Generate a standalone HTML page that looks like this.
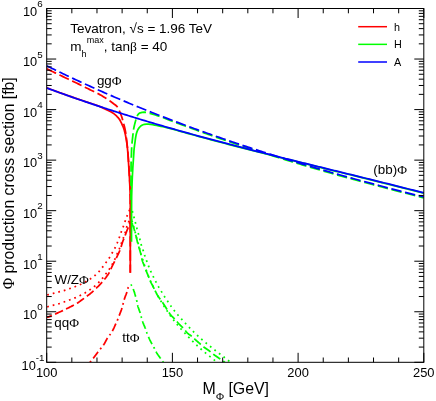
<!DOCTYPE html>
<html><head><meta charset="utf-8"><title>plot</title>
<style>html,body{margin:0;padding:0;background:#fff;}svg{display:block;will-change:transform;}</style></head>
<body>
<svg width="436" height="401" viewBox="0 0 436 401">
<rect width="436" height="401" fill="#fff"/>
<defs><clipPath id="c"><rect x="46.7" y="8.5" width="377.1" height="353.8"/></clipPath></defs>
<g clip-path="url(#c)" stroke-linecap="butt" stroke-linejoin="round">
<path d="M89.90,362.40 L90.19,362.06 L90.47,361.72 L90.76,361.37 L91.04,361.03 L91.32,360.69 L91.60,360.34 L91.88,360.00 L92.16,359.65 L92.44,359.30 L92.72,358.95 L93.00,358.61 L93.27,358.26 L93.54,357.90 L93.82,357.55 L94.09,357.20 L94.36,356.84 L94.62,356.49 L94.89,356.13 L95.16,355.78 L95.43,355.42 L95.69,355.06 L95.96,354.71 L96.23,354.35 L96.49,353.99 L96.76,353.64 L97.03,353.28 L97.29,352.93 L97.56,352.57 L97.83,352.22 L98.10,351.86 L98.38,351.51 L98.65,351.16 L98.92,350.81 L99.19,350.45 L99.47,350.10 L99.74,349.75 L100.01,349.40 L100.29,349.05 L100.56,348.70 L100.84,348.35 L101.12,348.00 L101.40,347.66 L101.69,347.32 L101.98,346.97 L102.26,346.63 L102.55,346.29 L102.83,345.94 L103.10,345.59 L103.36,345.24 L103.62,344.87 L103.86,344.51 L104.10,344.13 L104.33,343.75 L104.55,343.37 L104.77,342.98 L104.98,342.59 L105.19,342.19 L105.40,341.80 L105.61,341.40 L105.82,341.01 L106.03,340.61 L106.23,340.21 L106.45,339.82 L106.66,339.43 L106.88,339.04 L107.10,338.65 L107.33,338.27 L107.57,337.90 L107.81,337.53 L108.07,337.17 L108.34,336.81 L108.61,336.46 L108.88,336.11 L109.16,335.76 L109.44,335.41 L109.71,335.06 L109.98,334.70 L110.24,334.34 L110.50,333.98 L110.75,333.61 L111.01,333.24 L111.26,332.87 L111.50,332.50 L111.74,332.13 L111.98,331.75 L112.20,331.37 L112.42,330.98 L112.63,330.59 L112.84,330.20 L113.04,329.81 L113.24,329.41 L113.44,329.01 L113.63,328.61 L113.82,328.21 L114.00,327.80 L114.19,327.40 L114.37,326.99 L114.55,326.58 L114.73,326.17 L114.91,325.76 L115.09,325.35 L115.27,324.95 L115.45,324.54 L115.63,324.13 L115.82,323.72 L116.00,323.32 L116.19,322.91 L116.37,322.51 L116.56,322.10 L116.75,321.70 L116.94,321.30 L117.12,320.89 L117.31,320.49 L117.48,320.08 L117.65,319.67 L117.82,319.26 L117.99,318.84 L118.15,318.43 L118.30,318.01 L118.46,317.59 L118.62,317.18 L118.77,316.76 L118.92,316.34 L119.08,315.92 L119.24,315.51 L119.39,315.09 L119.55,314.67 L119.71,314.26 L119.88,313.84 L120.04,313.43 L120.20,313.01 L120.36,312.60 L120.52,312.18 L120.68,311.76 L120.84,311.35 L121.00,310.93 L121.15,310.51 L121.31,310.09 L121.45,309.67 L121.60,309.25 L121.74,308.83 L121.87,308.41 L122.00,307.99 L122.13,307.56 L122.25,307.13 L122.36,306.70 L122.47,306.27 L122.58,305.84 L122.69,305.41 L122.80,304.97 L122.91,304.54 L123.02,304.11 L123.14,303.68 L123.25,303.25 L123.36,302.82 L123.48,302.39 L123.59,301.96 L123.70,301.53 L123.82,301.09 L123.93,300.66 L124.05,300.24 L124.17,299.81 L124.29,299.38 L124.42,298.95 L124.55,298.53 L124.69,298.11 L124.83,297.69 L124.98,297.27 L125.14,296.85 L125.29,296.43 L125.45,296.02 L125.61,295.60 L125.77,295.18 L125.93,294.77 L126.10,294.35 L126.25,293.94 L126.41,293.52 L126.56,293.10 L126.71,292.68 L126.85,292.26 L126.99,291.84 L127.12,291.41 L127.24,290.98 L127.36,290.55 L127.47,290.12 L127.59,289.69 L127.70,289.26 L127.81,288.83 L127.93,288.40 L128.06,287.97 L128.18,287.55 L128.32,287.12 L128.46,286.70 L128.61,286.28 L128.76,285.86 L128.91,285.45 L129.07,285.03 L129.24,284.61 L129.40,284.20" stroke="#ff0000" stroke-width="1.75" fill="none" stroke-dasharray="8.2 3.4 1.75 3.4" stroke-dashoffset="11.6"/>
<path d="M131.20,284.30 L131.31,284.71 L131.44,285.12 L131.58,285.52 L131.74,285.91 L131.91,286.30 L132.09,286.69 L132.27,287.08 L132.46,287.47 L132.65,287.85 L132.83,288.24 L133.02,288.62 L133.20,289.01 L133.37,289.41 L133.52,289.80 L133.67,290.20 L133.82,290.60 L133.95,291.00 L134.09,291.40 L134.22,291.81 L134.36,292.22 L134.48,292.62 L134.61,293.03 L134.73,293.44 L134.86,293.85 L134.98,294.26 L135.10,294.67 L135.21,295.08 L135.33,295.49 L135.45,295.91 L135.56,296.32 L135.68,296.73 L135.79,297.14 L135.91,297.55 L136.02,297.96 L136.13,298.37 L136.25,298.79 L136.35,299.20 L136.46,299.61 L136.57,300.03 L136.67,300.44 L136.77,300.85 L136.87,301.27 L136.96,301.69 L137.05,302.10 L137.14,302.52 L137.22,302.94 L137.30,303.36 L137.38,303.78 L137.46,304.20 L137.55,304.62 L137.63,305.04 L137.72,305.46 L137.82,305.87 L137.92,306.28 L138.03,306.69 L138.15,307.10 L138.28,307.51 L138.41,307.91 L138.55,308.32 L138.69,308.72 L138.83,309.12 L138.98,309.52 L139.13,309.92 L139.28,310.33 L139.42,310.73 L139.57,311.13 L139.72,311.53 L139.86,311.94 L139.99,312.34 L140.12,312.75 L140.25,313.16 L140.37,313.56 L140.48,313.98 L140.60,314.39 L140.71,314.80 L140.82,315.21 L140.93,315.62 L141.04,316.04 L141.15,316.45 L141.27,316.86 L141.38,317.27 L141.49,317.68 L141.61,318.09 L141.73,318.50 L141.84,318.92 L141.96,319.33 L142.08,319.74 L142.19,320.15 L142.31,320.56 L142.44,320.97 L142.56,321.37 L142.69,321.78 L142.83,322.18 L142.97,322.59 L143.12,322.98 L143.27,323.38 L143.43,323.78 L143.59,324.17 L143.75,324.57 L143.92,324.96 L144.09,325.35 L144.26,325.75 L144.43,326.14 L144.60,326.53 L144.77,326.92 L144.93,327.32 L145.10,327.71 L145.26,328.11 L145.41,328.51 L145.56,328.90 L145.71,329.31 L145.85,329.71 L145.99,330.11 L146.13,330.52 L146.26,330.92 L146.39,331.33 L146.52,331.73 L146.66,332.14 L146.79,332.55 L146.93,332.95 L147.07,333.35 L147.22,333.75 L147.37,334.15 L147.52,334.55 L147.68,334.95 L147.84,335.35 L148.00,335.74 L148.16,336.14 L148.32,336.53 L148.49,336.92 L148.66,337.31 L148.83,337.70 L149.01,338.09 L149.19,338.48 L149.36,338.87 L149.54,339.25 L149.73,339.64 L149.91,340.03 L150.10,340.41 L150.28,340.79 L150.47,341.18 L150.66,341.56 L150.86,341.94 L151.05,342.32 L151.25,342.70 L151.44,343.08 L151.64,343.46 L151.84,343.84 L152.04,344.22 L152.24,344.59 L152.44,344.97 L152.64,345.34 L152.85,345.71 L153.07,346.08 L153.28,346.45 L153.50,346.82 L153.72,347.19 L153.93,347.56 L154.15,347.92 L154.36,348.29 L154.57,348.67 L154.78,349.04 L154.97,349.42 L155.17,349.80 L155.36,350.18 L155.54,350.57 L155.73,350.95 L155.92,351.34 L156.11,351.72 L156.30,352.10 L156.50,352.48 L156.71,352.85 L156.93,353.21 L157.15,353.57 L157.37,353.93 L157.61,354.29 L157.84,354.64 L158.08,355.00 L158.33,355.34 L158.58,355.69 L158.83,356.04 L159.08,356.39 L159.33,356.73 L159.59,357.08 L159.84,357.42 L160.09,357.77 L160.35,358.11 L160.60,358.46 L160.85,358.80 L161.10,359.15 L161.34,359.50 L161.59,359.85 L161.83,360.20 L162.08,360.55 L162.32,360.90 L162.57,361.25 L162.81,361.60 L163.06,361.95 L163.30,362.30" stroke="#00ff00" stroke-width="1.75" fill="none" stroke-dasharray="8.2 3.4 1.75 3.4" stroke-dashoffset="11.6"/>
<path d="M47.20,294.90 L47.82,294.75 L48.45,294.60 L49.07,294.44 L49.70,294.29 L50.32,294.13 L50.95,293.98 L51.57,293.82 L52.19,293.66 L52.81,293.50 L53.44,293.34 L54.06,293.18 L54.68,293.01 L55.30,292.84 L55.92,292.68 L56.54,292.51 L57.16,292.34 L57.78,292.17 L58.40,292.01 L59.03,291.84 L59.65,291.68 L60.27,291.52 L60.90,291.36 L61.52,291.21 L62.14,291.05 L62.77,290.89 L63.39,290.72 L64.00,290.55 L64.62,290.36 L65.23,290.17 L65.84,289.97 L66.45,289.76 L67.06,289.55 L67.66,289.33 L68.27,289.12 L68.87,288.90 L69.48,288.68 L70.08,288.46 L70.69,288.25 L71.30,288.03 L71.90,287.82 L72.51,287.60 L73.11,287.38 L73.71,287.15 L74.31,286.93 L74.91,286.69 L75.51,286.46 L76.11,286.22 L76.71,285.99 L77.30,285.74 L77.90,285.50 L78.49,285.25 L79.08,285.00 L79.67,284.74 L80.26,284.47 L80.84,284.21 L81.42,283.93 L82.00,283.65 L82.58,283.37 L83.16,283.08 L83.73,282.79 L84.30,282.49 L84.87,282.19 L85.43,281.88 L85.99,281.57 L86.55,281.25 L87.11,280.93 L87.66,280.60 L88.21,280.27 L88.76,279.93 L89.30,279.59 L89.84,279.24 L90.38,278.89 L90.91,278.53 L91.45,278.17 L91.98,277.80 L92.50,277.42 L93.02,277.04 L93.53,276.65 L94.03,276.25 L94.53,275.85 L95.02,275.43 L95.50,275.01 L95.98,274.58 L96.45,274.14 L96.92,273.69 L97.38,273.24 L97.83,272.78 L98.27,272.32 L98.71,271.85 L99.13,271.37 L99.56,270.89 L99.97,270.39 L100.38,269.90 L100.79,269.40 L101.19,268.89 L101.59,268.39 L101.99,267.89 L102.38,267.38 L102.77,266.86 L103.15,266.35 L103.53,265.83 L103.91,265.31 L104.28,264.79 L104.66,264.27 L105.04,263.75 L105.43,263.23 L105.82,262.72 L106.22,262.21 L106.61,261.71 L107.01,261.20 L107.41,260.69 L107.80,260.18 L108.18,259.66 L108.54,259.14 L108.89,258.60 L109.23,258.06 L109.56,257.51 L109.88,256.95 L110.20,256.39 L110.51,255.83 L110.83,255.26 L111.14,254.70 L111.46,254.14 L111.78,253.59 L112.11,253.03 L112.45,252.48 L112.78,251.93 L113.12,251.38 L113.44,250.83 L113.77,250.27 L114.08,249.71 L114.38,249.15 L114.67,248.58 L114.96,248.00 L115.24,247.42 L115.52,246.84 L115.79,246.26 L116.06,245.67 L116.32,245.09 L116.58,244.50 L116.84,243.91 L117.09,243.32 L117.34,242.73 L117.58,242.13 L117.82,241.53 L118.06,240.93 L118.29,240.33 L118.52,239.73 L118.74,239.13 L118.96,238.53 L119.18,237.92 L119.39,237.31 L119.59,236.70 L119.79,236.09 L119.99,235.48 L120.19,234.87 L120.40,234.26 L120.61,233.65 L120.83,233.05 L121.05,232.45 L121.27,231.84 L121.50,231.24 L121.73,230.64 L121.96,230.04 L122.19,229.44 L122.42,228.84 L122.65,228.24 L122.87,227.64 L123.10,227.03 L123.32,226.43 L123.54,225.83 L123.77,225.23 L123.99,224.62 L124.20,224.02 L124.42,223.41 L124.63,222.80 L124.84,222.20 L125.04,221.58 L125.24,220.97 L125.43,220.36 L125.63,219.74 L125.83,219.13 L126.03,218.52 L126.24,217.92 L126.47,217.32 L126.71,216.72 L126.96,216.13 L127.22,215.54 L127.49,214.96 L127.75,214.37 L128.02,213.79 L128.28,213.20 L128.53,212.61 L128.78,212.01 L129.01,211.41 L129.24,210.81 L129.46,210.21 L129.68,209.61 L129.90,209.00" stroke="#ff0000" stroke-width="1.75" fill="none" stroke-dasharray="1.75 3.95" stroke-dashoffset="0"/>
<path d="M47.20,306.90 L47.82,306.72 L48.44,306.53 L49.07,306.35 L49.69,306.17 L50.32,306.00 L50.94,305.82 L51.57,305.65 L52.19,305.48 L52.82,305.32 L53.45,305.16 L54.08,305.00 L54.71,304.85 L55.34,304.71 L55.98,304.56 L56.61,304.40 L57.24,304.25 L57.86,304.08 L58.48,303.90 L59.10,303.72 L59.72,303.52 L60.34,303.31 L60.95,303.10 L61.56,302.88 L62.17,302.65 L62.78,302.43 L63.39,302.21 L64.00,301.99 L64.61,301.77 L65.22,301.55 L65.83,301.33 L66.44,301.11 L67.05,300.88 L67.66,300.66 L68.27,300.43 L68.88,300.21 L69.48,299.98 L70.09,299.76 L70.70,299.54 L71.31,299.31 L71.92,299.09 L72.53,298.86 L73.13,298.63 L73.74,298.39 L74.34,298.14 L74.93,297.89 L75.53,297.64 L76.12,297.37 L76.71,297.11 L77.30,296.84 L77.89,296.56 L78.48,296.29 L79.07,296.01 L79.65,295.72 L80.23,295.44 L80.81,295.15 L81.40,294.86 L81.98,294.57 L82.55,294.27 L83.13,293.97 L83.70,293.66 L84.26,293.35 L84.83,293.03 L85.38,292.70 L85.94,292.36 L86.49,292.02 L87.04,291.67 L87.58,291.31 L88.12,290.96 L88.66,290.60 L89.20,290.23 L89.74,289.87 L90.28,289.51 L90.81,289.14 L91.35,288.77 L91.88,288.39 L92.40,288.01 L92.92,287.63 L93.44,287.23 L93.94,286.83 L94.44,286.41 L94.93,285.98 L95.41,285.55 L95.89,285.11 L96.37,284.67 L96.84,284.23 L97.31,283.78 L97.78,283.34 L98.26,282.89 L98.73,282.44 L99.19,281.99 L99.66,281.53 L100.11,281.07 L100.56,280.60 L100.99,280.12 L101.42,279.63 L101.83,279.14 L102.23,278.63 L102.63,278.12 L103.02,277.60 L103.41,277.08 L103.80,276.56 L104.19,276.04 L104.58,275.52 L104.98,275.01 L105.38,274.49 L105.78,273.98 L106.18,273.47 L106.58,272.96 L106.98,272.45 L107.37,271.93 L107.76,271.41 L108.14,270.89 L108.52,270.36 L108.89,269.83 L109.25,269.29 L109.60,268.74 L109.95,268.20 L110.29,267.65 L110.63,267.09 L110.97,266.54 L111.30,265.98 L111.62,265.42 L111.95,264.86 L112.28,264.29 L112.60,263.73 L112.92,263.16 L113.23,262.59 L113.53,262.02 L113.83,261.45 L114.12,260.87 L114.40,260.28 L114.67,259.69 L114.93,259.10 L115.18,258.50 L115.42,257.90 L115.67,257.30 L115.91,256.70 L116.16,256.10 L116.41,255.50 L116.67,254.90 L116.94,254.31 L117.22,253.72 L117.49,253.14 L117.76,252.55 L118.04,251.96 L118.31,251.37 L118.57,250.78 L118.82,250.18 L119.07,249.58 L119.31,248.98 L119.54,248.37 L119.77,247.77 L120.00,247.16 L120.22,246.55 L120.45,245.94 L120.67,245.33 L120.89,244.72 L121.11,244.11 L121.33,243.50 L121.55,242.89 L121.77,242.28 L121.98,241.67 L122.20,241.06 L122.42,240.44 L122.64,239.83 L122.86,239.23 L123.10,238.62 L123.34,238.02 L123.58,237.41 L123.83,236.81 L124.06,236.21 L124.29,235.60 L124.51,234.99 L124.71,234.37 L124.89,233.75 L125.05,233.13 L125.21,232.50 L125.36,231.86 L125.50,231.23 L125.65,230.60 L125.81,229.97 L125.97,229.34 L126.15,228.72 L126.35,228.10 L126.56,227.49 L126.78,226.88 L127.00,226.27 L127.23,225.66 L127.47,225.06 L127.70,224.45 L127.93,223.84 L128.16,223.24 L128.39,222.63 L128.62,222.02 L128.85,221.42 L129.09,220.81 L129.32,220.21 L129.56,219.60 L129.80,219.00" stroke="#ff0000" stroke-width="1.75" fill="none" stroke-dasharray="1.75 3.95" stroke-dashoffset="0"/>
<path d="M46.70,317.50 L47.34,317.28 L47.97,317.06 L48.60,316.83 L49.23,316.59 L49.86,316.35 L50.48,316.11 L51.10,315.86 L51.72,315.60 L52.34,315.34 L52.96,315.07 L53.57,314.80 L54.18,314.52 L54.79,314.24 L55.41,313.96 L56.02,313.68 L56.63,313.41 L57.24,313.13 L57.85,312.85 L58.46,312.57 L59.08,312.30 L59.69,312.02 L60.30,311.74 L60.91,311.46 L61.52,311.17 L62.13,310.89 L62.73,310.61 L63.34,310.32 L63.95,310.03 L64.56,309.75 L65.16,309.46 L65.77,309.16 L66.37,308.87 L66.97,308.57 L67.57,308.27 L68.17,307.97 L68.77,307.67 L69.37,307.36 L69.97,307.06 L70.57,306.76 L71.17,306.45 L71.77,306.15 L72.38,305.85 L72.98,305.54 L73.57,305.23 L74.17,304.92 L74.76,304.60 L75.35,304.28 L75.93,303.95 L76.51,303.62 L77.08,303.27 L77.65,302.91 L78.21,302.54 L78.76,302.16 L79.30,301.76 L79.85,301.37 L80.39,300.97 L80.93,300.58 L81.48,300.18 L82.03,299.79 L82.57,299.40 L83.11,299.01 L83.66,298.61 L84.20,298.22 L84.74,297.82 L85.28,297.42 L85.82,297.02 L86.36,296.62 L86.90,296.22 L87.44,295.82 L87.98,295.42 L88.52,295.02 L89.05,294.61 L89.59,294.21 L90.12,293.79 L90.64,293.37 L91.15,292.94 L91.66,292.50 L92.16,292.06 L92.66,291.61 L93.16,291.16 L93.66,290.70 L94.15,290.24 L94.64,289.78 L95.12,289.32 L95.61,288.85 L96.09,288.39 L96.58,287.92 L97.06,287.45 L97.54,286.98 L98.01,286.51 L98.49,286.03 L98.95,285.55 L99.41,285.06 L99.88,284.57 L100.34,284.09 L100.80,283.60 L101.26,283.10 L101.72,282.61 L102.17,282.11 L102.62,281.61 L103.06,281.10 L103.49,280.59 L103.92,280.07 L104.34,279.55 L104.75,279.03 L105.17,278.50 L105.58,277.96 L105.99,277.43 L106.39,276.88 L106.79,276.34 L107.18,275.79 L107.56,275.23 L107.93,274.67 L108.30,274.11 L108.65,273.54 L108.99,272.97 L109.32,272.39 L109.63,271.80 L109.93,271.20 L110.21,270.60 L110.49,269.98 L110.76,269.37 L111.03,268.75 L111.30,268.13 L111.57,267.51 L111.84,266.89 L112.12,266.28 L112.41,265.68 L112.71,265.07 L113.02,264.48 L113.32,263.88 L113.63,263.28 L113.94,262.69 L114.25,262.09 L114.56,261.49 L114.86,260.89 L115.17,260.29 L115.47,259.70 L115.78,259.10 L116.08,258.50 L116.38,257.90 L116.68,257.30 L116.98,256.69 L117.27,256.09 L117.56,255.48 L117.84,254.88 L118.13,254.27 L118.42,253.66 L118.70,253.05 L118.98,252.44 L119.25,251.82 L119.51,251.20 L119.77,250.58 L120.01,249.96 L120.25,249.34 L120.47,248.70 L120.69,248.07 L120.90,247.43 L121.10,246.79 L121.30,246.15 L121.50,245.50 L121.69,244.86 L121.89,244.22 L122.09,243.57 L122.29,242.93 L122.50,242.29 L122.72,241.66 L122.94,241.03 L123.18,240.40 L123.43,239.78 L123.70,239.16 L123.96,238.54 L124.23,237.93 L124.48,237.30 L124.72,236.68 L124.95,236.05 L125.18,235.41 L125.41,234.78 L125.63,234.15 L125.86,233.52 L126.08,232.88 L126.31,232.25 L126.54,231.62 L126.78,230.99 L127.03,230.37 L127.28,229.75 L127.55,229.13 L127.81,228.51 L128.07,227.89 L128.33,227.27 L128.58,226.64 L128.82,226.02 L129.04,225.38 L129.25,224.75 L129.44,224.11 L129.62,223.46 L129.79,222.81 L129.95,222.16 L130.10,221.50" stroke="#ff0000" stroke-width="1.75" fill="none" stroke-dasharray="8.7 3.5" stroke-dashoffset="3.2"/>
<path d="M132.30,211.00 L132.54,211.90 L132.79,212.80 L133.03,213.70 L133.27,214.60 L133.51,215.50 L133.76,216.40 L134.00,217.31 L134.24,218.21 L134.49,219.11 L134.73,220.01 L134.97,220.91 L135.20,221.81 L135.43,222.72 L135.66,223.62 L135.88,224.53 L136.10,225.43 L136.33,226.34 L136.56,227.24 L136.80,228.14 L137.04,229.04 L137.29,229.94 L137.54,230.84 L137.80,231.74 L138.05,232.64 L138.31,233.53 L138.58,234.43 L138.84,235.32 L139.11,236.22 L139.36,237.11 L139.60,238.01 L139.82,238.92 L140.02,239.83 L140.22,240.75 L140.41,241.66 L140.61,242.57 L140.84,243.47 L141.09,244.37 L141.38,245.25 L141.69,246.14 L142.01,247.01 L142.33,247.89 L142.63,248.78 L142.91,249.67 L143.18,250.56 L143.44,251.45 L143.71,252.35 L143.97,253.24 L144.25,254.13 L144.54,255.02 L144.84,255.90 L145.15,256.78 L145.46,257.66 L145.78,258.54 L146.10,259.42 L146.41,260.30 L146.73,261.17 L147.04,262.05 L147.36,262.93 L147.68,263.80 L148.01,264.68 L148.35,265.55 L148.69,266.41 L149.04,267.28 L149.39,268.15 L149.75,269.01 L150.11,269.87 L150.48,270.72 L150.86,271.57 L151.25,272.42 L151.64,273.27 L152.04,274.11 L152.44,274.96 L152.84,275.80 L153.25,276.63 L153.67,277.47 L154.08,278.30 L154.51,279.14 L154.93,279.97 L155.35,280.80 L155.77,281.63 L156.20,282.46 L156.62,283.29 L157.05,284.12 L157.49,284.94 L157.95,285.76 L158.41,286.57 L158.88,287.37 L159.37,288.17 L159.85,288.97 L160.34,289.76 L160.82,290.56 L161.30,291.36 L161.78,292.16 L162.26,292.96 L162.74,293.76 L163.23,294.56 L163.73,295.35 L164.23,296.13 L164.74,296.91 L165.25,297.69 L165.77,298.47 L166.29,299.24 L166.81,300.02 L167.33,300.79 L167.85,301.57 L168.38,302.34 L168.90,303.11 L169.43,303.88 L169.96,304.64 L170.50,305.41 L171.03,306.17 L171.57,306.93 L172.11,307.69 L172.66,308.45 L173.22,309.19 L173.78,309.94 L174.36,310.67 L174.94,311.41 L175.52,312.13 L176.11,312.86 L176.70,313.58 L177.30,314.30 L177.90,315.01 L178.50,315.72 L179.11,316.43 L179.73,317.13 L180.34,317.83 L180.97,318.52 L181.60,319.21 L182.23,319.89 L182.87,320.57 L183.51,321.25 L184.15,321.93 L184.78,322.62 L185.42,323.30 L186.05,323.99 L186.68,324.68 L187.31,325.36 L187.95,326.04 L188.59,326.72 L189.24,327.39 L189.89,328.06 L190.54,328.73 L191.20,329.39 L191.85,330.05 L192.51,330.71 L193.18,331.37 L193.84,332.02 L194.51,332.67 L195.18,333.32 L195.85,333.97 L196.53,334.61 L197.21,335.25 L197.89,335.89 L198.57,336.53 L199.26,337.16 L199.95,337.78 L200.64,338.41 L201.34,339.02 L202.05,339.63 L202.76,340.24 L203.47,340.85 L204.18,341.45 L204.89,342.05 L205.61,342.64 L206.34,343.23 L207.06,343.81 L207.79,344.40 L208.52,344.99 L209.24,345.58 L209.96,346.17 L210.68,346.76 L211.40,347.36 L212.12,347.95 L212.84,348.53 L213.57,349.12 L214.31,349.70 L215.04,350.27 L215.78,350.84 L216.52,351.41 L217.26,351.98 L217.99,352.55 L218.74,353.12 L219.48,353.68 L220.22,354.24 L220.97,354.81 L221.71,355.37 L222.45,355.94 L223.19,356.51 L223.93,357.07 L224.67,357.64 L225.41,358.21 L226.14,358.78 L226.88,359.36 L227.61,359.94 L228.33,360.53 L229.06,361.12 L229.78,361.71 L230.50,362.30" stroke="#00ff00" stroke-width="1.75" fill="none" stroke-dasharray="1.75 3.95" stroke-dashoffset="0"/>
<path d="M131.90,220.50 L132.15,221.32 L132.40,222.14 L132.65,222.96 L132.89,223.78 L133.13,224.60 L133.37,225.43 L133.60,226.25 L133.83,227.08 L134.06,227.90 L134.29,228.73 L134.51,229.56 L134.73,230.39 L134.94,231.21 L135.16,232.04 L135.37,232.87 L135.58,233.70 L135.78,234.54 L135.99,235.37 L136.19,236.20 L136.40,237.03 L136.62,237.86 L136.84,238.69 L137.06,239.52 L137.29,240.34 L137.52,241.17 L137.76,241.99 L137.99,242.82 L138.23,243.64 L138.47,244.46 L138.71,245.28 L138.96,246.10 L139.20,246.93 L139.43,247.75 L139.65,248.58 L139.84,249.41 L140.03,250.25 L140.20,251.09 L140.38,251.93 L140.57,252.77 L140.77,253.60 L140.99,254.42 L141.24,255.24 L141.52,256.05 L141.81,256.86 L142.10,257.67 L142.39,258.48 L142.66,259.29 L142.92,260.10 L143.17,260.92 L143.41,261.75 L143.65,262.57 L143.90,263.39 L144.15,264.21 L144.41,265.03 L144.68,265.84 L144.96,266.65 L145.25,267.46 L145.54,268.26 L145.83,269.07 L146.12,269.87 L146.41,270.68 L146.70,271.49 L146.99,272.29 L147.28,273.10 L147.57,273.90 L147.87,274.71 L148.18,275.51 L148.49,276.30 L148.81,277.10 L149.13,277.90 L149.45,278.69 L149.78,279.48 L150.11,280.27 L150.46,281.06 L150.80,281.84 L151.16,282.62 L151.51,283.40 L151.88,284.17 L152.25,284.95 L152.61,285.72 L152.99,286.49 L153.36,287.26 L153.75,288.03 L154.13,288.80 L154.52,289.56 L154.91,290.32 L155.30,291.09 L155.68,291.85 L156.07,292.62 L156.46,293.38 L156.85,294.14 L157.25,294.90 L157.66,295.65 L158.08,296.40 L158.51,297.14 L158.95,297.88 L159.39,298.61 L159.84,299.34 L160.28,300.07 L160.73,300.81 L161.17,301.54 L161.61,302.28 L162.05,303.01 L162.49,303.75 L162.94,304.48 L163.39,305.21 L163.85,305.93 L164.31,306.65 L164.78,307.37 L165.25,308.08 L165.73,308.80 L166.20,309.51 L166.68,310.22 L167.16,310.93 L167.63,311.64 L168.11,312.35 L168.60,313.06 L169.08,313.77 L169.57,314.47 L170.05,315.18 L170.55,315.88 L171.04,316.58 L171.53,317.28 L172.03,317.98 L172.54,318.67 L173.04,319.36 L173.56,320.04 L174.08,320.72 L174.61,321.40 L175.14,322.07 L175.68,322.74 L176.22,323.40 L176.77,324.06 L177.32,324.72 L177.87,325.38 L178.42,326.03 L178.98,326.68 L179.55,327.32 L180.11,327.97 L180.68,328.61 L181.26,329.24 L181.84,329.87 L182.43,330.49 L183.01,331.12 L183.60,331.74 L184.19,332.37 L184.77,333.00 L185.35,333.63 L185.93,334.26 L186.51,334.89 L187.09,335.52 L187.67,336.15 L188.26,336.77 L188.85,337.39 L189.45,338.01 L190.05,338.62 L190.65,339.23 L191.25,339.84 L191.85,340.45 L192.46,341.06 L193.07,341.66 L193.68,342.26 L194.29,342.86 L194.90,343.46 L195.52,344.05 L196.14,344.64 L196.76,345.23 L197.38,345.82 L198.01,346.41 L198.64,346.99 L199.27,347.57 L199.90,348.15 L200.54,348.72 L201.18,349.28 L201.83,349.85 L202.48,350.41 L203.13,350.96 L203.79,351.52 L204.44,352.07 L205.10,352.62 L205.76,353.16 L206.43,353.70 L207.09,354.24 L207.76,354.78 L208.43,355.32 L209.09,355.86 L209.75,356.40 L210.41,356.95 L211.08,357.49 L211.74,358.03 L212.40,358.58 L213.07,359.11 L213.74,359.65 L214.41,360.18 L215.08,360.71 L215.76,361.24 L216.44,361.76 L217.12,362.28 L217.80,362.80" stroke="#00ff00" stroke-width="1.75" fill="none" stroke-dasharray="1.75 3.95" stroke-dashoffset="0"/>
<path d="M131.80,219.00 L131.83,219.90 L131.90,220.79 L132.00,221.67 L132.12,222.55 L132.25,223.42 L132.45,224.27 L132.71,225.12 L133.01,225.96 L133.33,226.80 L133.65,227.64 L133.93,228.49 L134.19,229.34 L134.43,230.20 L134.66,231.05 L134.89,231.91 L135.12,232.77 L135.35,233.63 L135.58,234.49 L135.81,235.35 L136.03,236.21 L136.25,237.07 L136.47,237.93 L136.68,238.80 L136.88,239.66 L137.08,240.53 L137.27,241.40 L137.47,242.26 L137.68,243.12 L137.92,243.98 L138.16,244.84 L138.41,245.69 L138.67,246.54 L138.93,247.39 L139.19,248.24 L139.45,249.09 L139.71,249.94 L139.96,250.80 L140.21,251.65 L140.44,252.51 L140.67,253.37 L140.88,254.23 L141.07,255.10 L141.26,255.97 L141.44,256.85 L141.63,257.72 L141.82,258.59 L142.02,259.45 L142.24,260.31 L142.49,261.16 L142.77,262.00 L143.10,262.82 L143.44,263.65 L143.77,264.48 L144.08,265.31 L144.40,266.14 L144.71,266.97 L145.03,267.80 L145.34,268.63 L145.65,269.46 L145.97,270.30 L146.29,271.12 L146.62,271.95 L146.95,272.77 L147.29,273.60 L147.64,274.41 L147.99,275.23 L148.33,276.05 L148.66,276.88 L148.98,277.71 L149.31,278.54 L149.63,279.37 L149.96,280.20 L150.30,281.02 L150.65,281.83 L151.02,282.64 L151.42,283.43 L151.87,284.20 L152.32,284.97 L152.73,285.75 L153.13,286.55 L153.51,287.35 L153.88,288.16 L154.25,288.97 L154.62,289.78 L155.00,290.58 L155.39,291.38 L155.79,292.17 L156.21,292.96 L156.63,293.74 L157.06,294.52 L157.51,295.29 L157.98,296.04 L158.46,296.78 L158.97,297.51 L159.49,298.24 L160.01,298.95 L160.54,299.67 L161.07,300.39 L161.59,301.11 L162.11,301.83 L162.61,302.57 L163.10,303.31 L163.59,304.05 L164.07,304.80 L164.55,305.55 L165.03,306.30 L165.50,307.05 L165.96,307.81 L166.43,308.57 L166.90,309.33 L167.37,310.08 L167.85,310.83 L168.33,311.58 L168.82,312.31 L169.33,313.04 L169.85,313.77 L170.38,314.48 L170.93,315.18 L171.51,315.85 L172.12,316.49 L172.75,317.11 L173.40,317.73 L174.06,318.33 L174.71,318.95 L175.34,319.57 L175.95,320.22 L176.52,320.89 L177.05,321.61 L177.57,322.33 L178.12,323.03 L178.71,323.69 L179.33,324.32 L179.96,324.95 L180.60,325.57 L181.25,326.18 L181.90,326.79 L182.54,327.41 L183.17,328.04 L183.78,328.69 L184.36,329.36 L184.92,330.06 L185.47,330.77 L186.03,331.47 L186.60,332.15 L187.19,332.80 L187.83,333.40 L188.51,333.96 L189.22,334.49 L189.95,335.01 L190.68,335.53 L191.39,336.07 L192.08,336.63 L192.74,337.22 L193.39,337.83 L194.04,338.44 L194.68,339.05 L195.33,339.66 L195.99,340.25 L196.66,340.85 L197.32,341.44 L197.99,342.03 L198.65,342.62 L199.32,343.20 L200.00,343.78 L200.67,344.36 L201.35,344.94 L202.03,345.51 L202.71,346.08 L203.40,346.65 L204.09,347.20 L204.80,347.73 L205.52,348.25 L206.25,348.76 L206.99,349.26 L207.72,349.77 L208.45,350.28 L209.17,350.80 L209.88,351.34 L210.57,351.89 L211.25,352.46 L211.93,353.04 L212.62,353.60 L213.32,354.15 L214.03,354.68 L214.74,355.21 L215.47,355.73 L216.19,356.24 L216.92,356.76 L217.65,357.27 L218.38,357.77 L219.11,358.28 L219.85,358.77 L220.59,359.26 L221.33,359.76 L222.06,360.26 L222.78,360.78 L223.50,361.31 L224.20,361.85 L224.90,362.40" stroke="#00ff00" stroke-width="1.75" fill="none" stroke-dasharray="8.7 3.5" stroke-dashoffset="8.2"/>
<path d="M46.70,68.80 L47.82,69.34 L48.94,69.89 L50.07,70.43 L51.19,70.97 L52.31,71.51 L53.43,72.05 L54.56,72.59 L55.68,73.13 L56.81,73.67 L57.93,74.21 L59.05,74.75 L60.18,75.29 L61.30,75.82 L62.43,76.35 L63.56,76.89 L64.69,77.42 L65.81,77.95 L66.94,78.48 L68.07,79.01 L69.20,79.54 L70.33,80.07 L71.45,80.60 L72.58,81.14 L73.70,81.68 L74.83,82.22 L75.95,82.76 L77.07,83.30 L78.19,83.85 L79.31,84.40 L80.43,84.95 L81.55,85.50 L82.66,86.05 L83.78,86.60 L84.90,87.16 L86.01,87.71 L87.13,88.27 L88.25,88.82 L89.36,89.37 L90.48,89.92 L91.61,90.47 L92.73,91.01 L93.85,91.56 L94.97,92.11 L96.09,92.67 L97.20,93.23 L98.30,93.81 L99.40,94.39 L100.49,94.99 L101.57,95.61 L102.65,96.24 L103.72,96.88 L104.78,97.53 L105.84,98.19 L106.89,98.87 L107.93,99.55 L108.96,100.25 L109.98,100.96 L111.00,101.69 L112.00,102.44 L112.99,103.20 L113.97,103.96 L115.01,104.72 L116.01,105.50 L116.91,106.34 L117.63,107.29 L118.21,108.39 L118.74,109.55 L119.27,110.68 L119.79,111.81 L120.28,112.96 L120.74,114.11 L121.18,115.28 L121.60,116.46 L121.99,117.64 L122.34,118.84 L122.64,120.05 L122.92,121.26 L123.22,122.47 L123.57,123.67 L123.93,124.86 L124.28,126.06 L124.59,127.27 L124.88,128.48 L125.14,129.70 L125.37,130.92 L125.59,132.15 L125.79,133.38 L125.98,134.61 L126.15,135.85 L126.30,137.08 L126.45,138.32 L126.59,139.56 L126.73,140.80 L126.86,142.04 L127.00,143.28 L127.14,144.52 L127.27,145.76 L127.40,147.00 L127.53,148.24 L127.64,149.48 L127.75,150.72 L127.86,151.96 L127.96,153.20 L128.06,154.45 L128.15,155.69 L128.24,156.93 L128.33,158.18 L128.41,159.42 L128.49,160.66 L128.57,161.91 L128.65,163.15 L128.73,164.40 L128.81,165.64 L128.89,166.88 L128.97,168.13 L129.05,169.37 L129.13,170.62 L129.21,171.86 L129.29,173.10 L129.37,174.35 L129.44,175.59 L129.51,176.84 L129.58,178.08 L129.65,179.33 L129.71,180.57 L129.77,181.82 L129.82,183.06 L129.87,184.31 L129.92,185.55 L129.97,186.80 L130.01,188.04 L130.06,189.29 L130.10,190.53 L130.14,191.78 L130.18,193.03 L130.22,194.27 L130.25,195.52 L130.27,196.77 L130.29,198.01 L130.30,199.26 L130.30,200.50 L130.30,201.75 L130.30,203.00 L130.30,204.24 L130.30,205.49 L130.30,206.74 L130.30,207.98 L130.30,209.23 L130.30,210.47 L130.30,211.72 L130.30,212.97 L130.30,214.21 L130.30,215.46 L130.30,216.71 L130.30,217.95 L130.30,219.20 L130.30,220.44 L130.30,221.69 L130.30,222.94 L130.30,224.18 L130.30,225.43 L130.30,226.68 L130.30,227.92 L130.30,229.17 L130.30,230.42 L130.30,231.66 L130.30,232.91 L130.30,234.15 L130.30,235.40 L130.30,236.65 L130.30,237.89 L130.30,239.14 L130.30,240.39 L130.30,241.63 L130.30,242.88 L130.30,244.13 L130.30,245.37 L130.30,246.62 L130.30,247.87 L130.30,249.11 L130.30,250.36 L130.30,251.61 L130.30,252.85 L130.30,254.10 L130.30,255.35 L130.30,256.59 L130.30,257.84 L130.30,259.09 L130.30,260.33 L130.30,261.58 L130.30,262.83 L130.30,264.07 L130.30,265.32 L130.30,266.57 L130.30,267.81 L130.30,269.06 L130.30,270.31 L130.30,271.55 L130.30,272.80" stroke="#ff0000" stroke-width="1.75" fill="none" stroke-dasharray="10.4 3.7" stroke-dashoffset="0"/>
<path d="M46.70,87.80 L47.80,88.22 L48.91,88.64 L50.01,89.05 L51.12,89.47 L52.23,89.88 L53.33,90.29 L54.44,90.70 L55.55,91.11 L56.66,91.51 L57.77,91.92 L58.87,92.33 L59.98,92.73 L61.09,93.13 L62.21,93.53 L63.32,93.93 L64.43,94.33 L65.54,94.72 L66.65,95.12 L67.76,95.51 L68.88,95.91 L69.99,96.30 L71.11,96.69 L72.22,97.07 L73.34,97.45 L74.46,97.83 L75.57,98.21 L76.69,98.59 L77.81,98.96 L78.93,99.34 L80.05,99.71 L81.17,100.09 L82.29,100.46 L83.41,100.84 L84.53,101.22 L85.65,101.59 L86.77,101.98 L87.88,102.36 L89.00,102.74 L90.12,103.12 L91.25,103.49 L92.37,103.86 L93.49,104.23 L94.62,104.61 L95.73,104.99 L96.85,105.38 L97.95,105.79 L99.05,106.21 L100.14,106.65 L101.22,107.12 L102.29,107.62 L103.34,108.15 L104.39,108.70 L105.44,109.25 L106.49,109.79 L107.55,110.31 L108.63,110.81 L109.72,111.31 L110.79,111.82 L111.83,112.36 L112.83,112.95 L113.79,113.62 L114.71,114.36 L115.61,115.15 L116.47,115.97 L117.30,116.80 L118.10,117.68 L118.86,118.59 L119.53,119.55 L120.14,120.56 L120.70,121.61 L121.23,122.66 L121.73,123.73 L122.21,124.81 L122.71,125.88 L123.19,126.96 L123.62,128.06 L123.99,129.18 L124.32,130.31 L124.62,131.46 L124.91,132.60 L125.17,133.75 L125.42,134.91 L125.64,136.07 L125.86,137.23 L126.07,138.39 L126.27,139.55 L126.46,140.72 L126.64,141.89 L126.81,143.05 L126.96,144.22 L127.11,145.40 L127.24,146.57 L127.37,147.74 L127.49,148.92 L127.60,150.09 L127.71,151.27 L127.80,152.45 L127.90,153.62 L127.99,154.80 L128.07,155.98 L128.16,157.16 L128.24,158.33 L128.31,159.51 L128.39,160.69 L128.47,161.87 L128.54,163.05 L128.62,164.22 L128.69,165.40 L128.77,166.58 L128.84,167.76 L128.92,168.94 L128.99,170.12 L129.07,171.29 L129.14,172.47 L129.21,173.65 L129.28,174.83 L129.35,176.01 L129.42,177.19 L129.48,178.37 L129.55,179.55 L129.61,180.72 L129.67,181.90 L129.72,183.08 L129.77,184.26 L129.82,185.44 L129.87,186.62 L129.93,187.80 L129.98,188.98 L130.03,190.16 L130.08,191.34 L130.13,192.52 L130.17,193.70 L130.21,194.88 L130.25,196.06 L130.27,197.24 L130.29,198.42 L130.30,199.60 L130.30,200.78 L130.30,201.96 L130.30,203.14 L130.30,204.32 L130.30,205.50 L130.30,206.68 L130.30,207.86 L130.30,209.04 L130.30,210.22 L130.30,211.40 L130.30,212.58 L130.30,213.76 L130.30,214.95 L130.30,216.13 L130.30,217.31 L130.30,218.49 L130.30,219.67 L130.30,220.85 L130.30,222.03 L130.30,223.21 L130.30,224.39 L130.30,225.57 L130.30,226.75 L130.30,227.93 L130.30,229.11 L130.30,230.29 L130.30,231.47 L130.30,232.65 L130.30,233.83 L130.30,235.01 L130.30,236.19 L130.30,237.37 L130.30,238.55 L130.30,239.74 L130.30,240.92 L130.30,242.10 L130.30,243.28 L130.30,244.46 L130.30,245.64 L130.30,246.82 L130.30,248.00 L130.30,249.18 L130.30,250.36 L130.30,251.54 L130.30,252.72 L130.30,253.90 L130.30,255.08 L130.30,256.27 L130.30,257.45 L130.30,258.63 L130.30,259.81 L130.30,260.99 L130.30,262.17 L130.30,263.35 L130.30,264.53 L130.30,265.71 L130.30,266.89 L130.30,268.08 L130.30,269.26 L130.30,270.44 L130.30,271.62 L130.30,272.80" stroke="#ff0000" stroke-width="1.75" fill="none"/>
<path d="M131.00,200.00 L131.00,198.06 L131.00,196.12 L131.00,194.18 L131.00,192.24 L131.00,190.30 L131.01,188.36 L131.01,186.43 L131.01,184.49 L131.02,182.55 L131.02,180.61 L131.03,178.67 L131.03,176.73 L131.04,174.80 L131.05,172.86 L131.06,170.92 L131.06,168.98 L131.07,167.05 L131.08,165.11 L131.10,163.17 L131.12,161.23 L131.19,159.30 L131.29,157.36 L131.38,155.42 L131.45,153.49 L131.51,151.55 L131.57,149.61 L131.67,147.68 L131.80,145.74 L131.95,143.81 L132.13,141.88 L132.34,139.95 L132.56,138.03 L132.78,136.10 L132.99,134.17 L133.18,132.24 L133.43,130.32 L133.75,128.41 L134.14,126.51 L134.58,124.62 L135.06,122.74 L135.57,120.87 L136.11,118.94 L136.73,117.06 L137.50,115.34 L138.66,113.77 L140.25,112.78 L142.15,112.34 L144.12,112.20 L146.03,112.41 L147.94,112.83 L149.83,113.33 L151.71,113.81 L153.56,114.35 L155.41,114.96 L157.24,115.61 L159.07,116.27 L160.89,116.92 L162.72,117.58 L164.53,118.25 L166.35,118.94 L168.16,119.63 L169.97,120.32 L171.78,121.00 L173.60,121.69 L175.41,122.38 L177.22,123.07 L179.03,123.75 L180.85,124.43 L182.67,125.11 L184.48,125.78 L186.30,126.46 L188.12,127.13 L189.94,127.80 L191.76,128.46 L193.58,129.13 L195.40,129.79 L197.22,130.45 L199.05,131.11 L200.87,131.77 L202.69,132.42 L204.52,133.07 L206.35,133.72 L208.17,134.37 L210.00,135.02 L211.83,135.66 L213.66,136.30 L215.49,136.94 L217.32,137.58 L219.15,138.21 L220.98,138.85 L222.81,139.48 L224.65,140.11 L226.48,140.74 L228.32,141.36 L230.15,141.98 L231.99,142.61 L233.82,143.23 L235.66,143.84 L237.50,144.46 L239.34,145.07 L241.18,145.68 L243.02,146.29 L244.86,146.90 L246.70,147.51 L248.54,148.11 L250.38,148.71 L252.23,149.31 L254.07,149.91 L255.91,150.51 L257.76,151.10 L259.61,151.69 L261.45,152.28 L263.30,152.87 L265.15,153.46 L266.99,154.05 L268.84,154.63 L270.69,155.21 L272.54,155.79 L274.39,156.37 L276.24,156.94 L278.09,157.52 L279.94,158.09 L281.80,158.66 L283.65,159.23 L285.50,159.80 L287.36,160.37 L289.21,160.93 L291.07,161.49 L292.92,162.05 L294.78,162.61 L296.63,163.17 L298.49,163.73 L300.35,164.28 L302.21,164.83 L304.06,165.38 L305.92,165.93 L307.78,166.48 L309.64,167.03 L311.50,167.57 L313.36,168.11 L315.22,168.66 L317.09,169.20 L318.95,169.73 L320.81,170.27 L322.67,170.81 L324.54,171.34 L326.40,171.87 L328.27,172.40 L330.13,172.93 L331.99,173.46 L333.86,173.99 L335.73,174.51 L337.59,175.04 L339.46,175.56 L341.33,176.08 L343.19,176.60 L345.06,177.12 L346.93,177.64 L348.80,178.15 L350.67,178.66 L352.54,179.18 L354.41,179.69 L356.28,180.20 L358.15,180.71 L360.02,181.22 L361.89,181.72 L363.76,182.23 L365.63,182.73 L367.50,183.23 L369.38,183.74 L371.25,184.24 L373.12,184.73 L374.99,185.23 L376.87,185.73 L378.74,186.22 L380.62,186.72 L382.49,187.21 L384.37,187.70 L386.24,188.19 L388.12,188.68 L389.99,189.17 L391.87,189.66 L393.74,190.15 L395.62,190.63 L397.50,191.12 L399.38,191.60 L401.25,192.08 L403.13,192.56 L405.01,193.04 L406.89,193.52 L408.76,194.00 L410.64,194.48 L412.52,194.96 L414.40,195.43 L416.28,195.91 L418.16,196.38 L420.04,196.85 L421.92,197.33 L423.80,197.80" stroke="#00ff00" stroke-width="1.75" fill="none" stroke-dasharray="10.4 3.7" stroke-dashoffset="0"/>
<path d="M131.50,241.80 L131.50,239.74 L131.50,237.69 L131.50,235.63 L131.50,233.57 L131.51,231.51 L131.51,229.46 L131.51,227.40 L131.51,225.34 L131.52,223.29 L131.52,221.23 L131.53,219.17 L131.53,217.12 L131.54,215.06 L131.55,213.00 L131.55,210.95 L131.56,208.89 L131.57,206.83 L131.58,204.78 L131.59,202.72 L131.60,200.66 L131.61,198.61 L131.64,196.55 L131.69,194.49 L131.75,192.44 L131.81,190.38 L131.88,188.32 L131.96,186.27 L132.03,184.21 L132.11,182.16 L132.19,180.10 L132.28,178.05 L132.38,175.99 L132.49,173.94 L132.60,171.89 L132.71,169.83 L132.83,167.78 L132.96,165.73 L133.10,163.67 L133.24,161.62 L133.38,159.57 L133.53,157.52 L133.67,155.47 L133.80,153.41 L133.92,151.36 L134.07,149.31 L134.29,147.26 L134.58,145.23 L134.87,143.19 L135.13,141.15 L135.38,139.10 L135.69,137.07 L136.08,135.05 L136.58,133.04 L137.23,131.11 L138.13,129.21 L139.25,127.53 L140.72,125.98 L142.42,124.97 L144.41,124.29 L146.46,124.11 L148.51,124.22 L150.57,124.44 L152.61,124.68 L154.64,125.02 L156.65,125.45 L158.66,125.91 L160.68,126.34 L162.69,126.75 L164.71,127.17 L166.72,127.61 L168.72,128.06 L170.72,128.55 L172.70,129.09 L174.68,129.66 L176.65,130.24 L178.63,130.82 L180.61,131.38 L182.59,131.93 L184.57,132.48 L186.55,133.04 L188.53,133.59 L190.52,134.14 L192.50,134.68 L194.48,135.23 L196.47,135.77 L198.45,136.32 L200.43,136.86 L202.42,137.40 L204.40,137.93 L206.39,138.47 L208.38,139.01 L210.36,139.54 L212.35,140.07 L214.34,140.60 L216.32,141.13 L218.31,141.66 L220.30,142.19 L222.29,142.71 L224.28,143.24 L226.27,143.76 L228.26,144.28 L230.25,144.80 L232.24,145.32 L234.23,145.84 L236.22,146.36 L238.21,146.88 L240.20,147.39 L242.19,147.90 L244.18,148.42 L246.17,148.93 L248.17,149.44 L250.16,149.95 L252.15,150.46 L254.15,150.97 L256.14,151.47 L258.13,151.98 L260.13,152.49 L262.12,152.99 L264.12,153.49 L266.11,154.00 L268.10,154.50 L270.10,155.00 L272.09,155.50 L274.09,156.00 L276.08,156.50 L278.08,157.00 L280.08,157.50 L282.07,157.99 L284.07,158.49 L286.06,158.99 L288.06,159.48 L290.06,159.98 L292.05,160.47 L294.05,160.97 L296.05,161.46 L298.04,161.95 L300.04,162.45 L302.04,162.94 L304.03,163.43 L306.03,163.92 L308.03,164.42 L310.03,164.91 L312.02,165.40 L314.02,165.89 L316.02,166.38 L318.02,166.87 L320.01,167.36 L322.01,167.85 L324.01,168.34 L326.01,168.83 L328.00,169.32 L330.00,169.81 L332.00,170.30 L334.00,170.79 L335.99,171.28 L337.99,171.77 L339.99,172.26 L341.99,172.75 L343.99,173.24 L345.98,173.73 L347.98,174.22 L349.98,174.71 L351.98,175.20 L353.97,175.69 L355.97,176.18 L357.97,176.67 L359.96,177.17 L361.96,177.66 L363.96,178.15 L365.96,178.64 L367.95,179.14 L369.95,179.63 L371.95,180.13 L373.94,180.62 L375.94,181.11 L377.94,181.61 L379.93,182.11 L381.93,182.60 L383.92,183.10 L385.92,183.60 L387.91,184.10 L389.91,184.60 L391.90,185.10 L393.90,185.60 L395.89,186.10 L397.89,186.60 L399.88,187.10 L401.88,187.61 L403.87,188.11 L405.87,188.62 L407.86,189.12 L409.85,189.63 L411.85,190.14 L413.84,190.65 L415.83,191.16 L417.82,191.67 L419.82,192.18 L421.81,192.69 L423.80,193.21" stroke="#00ff00" stroke-width="1.75" fill="none"/>
<path d="M46.70,65.78 L48.50,66.67 L50.31,67.56 L52.11,68.44 L53.92,69.33 L55.73,70.20 L57.54,71.08 L59.35,71.95 L61.16,72.83 L62.97,73.69 L64.79,74.56 L66.60,75.42 L68.42,76.28 L70.24,77.14 L72.06,78.00 L73.88,78.85 L75.70,79.70 L77.52,80.55 L79.35,81.39 L81.17,82.23 L83.00,83.07 L84.83,83.91 L86.66,84.74 L88.49,85.57 L90.32,86.40 L92.15,87.23 L93.99,88.05 L95.82,88.87 L97.66,89.69 L99.50,90.50 L101.34,91.31 L103.18,92.12 L105.02,92.93 L106.86,93.74 L108.70,94.54 L110.55,95.34 L112.39,96.13 L114.24,96.93 L116.09,97.72 L117.94,98.51 L119.79,99.30 L121.64,100.08 L123.49,100.86 L125.35,101.64 L127.20,102.42 L129.06,103.19 L130.91,103.96 L132.77,104.73 L134.63,105.50 L136.49,106.26 L138.35,107.02 L140.21,107.78 L142.07,108.54 L143.94,109.29 L145.80,110.04 L147.67,110.79 L149.54,111.53 L151.40,112.28 L153.27,113.02 L155.14,113.76 L157.01,114.49 L158.89,115.23 L160.76,115.96 L162.63,116.69 L164.51,117.41 L166.38,118.14 L168.26,118.86 L170.14,119.58 L172.01,120.29 L173.89,121.01 L175.77,121.72 L177.65,122.43 L179.54,123.14 L181.42,123.84 L183.30,124.54 L185.19,125.24 L187.07,125.94 L188.96,126.64 L190.85,127.33 L192.74,128.02 L194.62,128.71 L196.51,129.40 L198.40,130.08 L200.30,130.76 L202.19,131.44 L204.08,132.12 L205.98,132.79 L207.87,133.46 L209.77,134.13 L211.66,134.80 L213.56,135.47 L215.46,136.13 L217.36,136.79 L219.25,137.45 L221.15,138.11 L223.06,138.76 L224.96,139.42 L226.86,140.07 L228.76,140.71 L230.67,141.36 L232.57,142.00 L234.48,142.65 L236.38,143.28 L238.29,143.92 L240.20,144.56 L242.10,145.19 L244.01,145.82 L245.92,146.45 L247.83,147.08 L249.74,147.70 L251.66,148.33 L253.57,148.95 L255.48,149.57 L257.39,150.18 L259.31,150.80 L261.22,151.41 L263.14,152.02 L265.05,152.63 L266.97,153.24 L268.89,153.84 L270.81,154.45 L272.72,155.05 L274.64,155.65 L276.56,156.24 L278.48,156.84 L280.40,157.43 L282.32,158.03 L284.25,158.62 L286.17,159.20 L288.09,159.79 L290.02,160.37 L291.94,160.96 L293.86,161.54 L295.79,162.12 L297.72,162.69 L299.64,163.27 L301.57,163.84 L303.50,164.42 L305.42,164.99 L307.35,165.55 L309.28,166.12 L311.21,166.69 L313.14,167.25 L315.07,167.81 L317.00,168.37 L318.93,168.93 L320.86,169.49 L322.80,170.04 L324.73,170.60 L326.66,171.15 L328.60,171.70 L330.53,172.25 L332.46,172.79 L334.40,173.34 L336.34,173.88 L338.27,174.43 L340.21,174.97 L342.14,175.51 L344.08,176.05 L346.02,176.58 L347.96,177.12 L349.89,177.65 L351.83,178.18 L353.77,178.72 L355.71,179.25 L357.65,179.77 L359.59,180.30 L361.53,180.83 L363.47,181.35 L365.41,181.87 L367.36,182.39 L369.30,182.91 L371.24,183.43 L373.18,183.95 L375.13,184.47 L377.07,184.98 L379.01,185.50 L380.96,186.01 L382.90,186.52 L384.85,187.03 L386.79,187.54 L388.74,188.05 L390.68,188.55 L392.63,189.06 L394.57,189.56 L396.52,190.06 L398.47,190.57 L400.41,191.07 L402.36,191.57 L404.31,192.07 L406.26,192.56 L408.21,193.06 L410.15,193.56 L412.10,194.05 L414.05,194.54 L416.00,195.04 L417.95,195.53 L419.90,196.02 L421.85,196.51 L423.80,197.00" stroke="#0000ff" stroke-width="1.75" fill="none" stroke-dasharray="10.4 3.7" stroke-dashoffset="0"/>
<path d="M46.70,87.96 L48.54,88.64 L50.39,89.33 L52.24,90.01 L54.09,90.68 L55.93,91.36 L57.78,92.03 L59.63,92.70 L61.49,93.37 L63.34,94.03 L65.19,94.69 L67.05,95.35 L68.90,96.01 L70.76,96.67 L72.62,97.32 L74.47,97.97 L76.33,98.61 L78.19,99.26 L80.05,99.90 L81.91,100.54 L83.78,101.18 L85.64,101.81 L87.50,102.44 L89.37,103.07 L91.23,103.70 L93.10,104.33 L94.97,104.95 L96.83,105.57 L98.70,106.19 L100.57,106.80 L102.44,107.42 L104.31,108.03 L106.18,108.64 L108.06,109.25 L109.93,109.85 L111.80,110.45 L113.68,111.05 L115.55,111.65 L117.43,112.25 L119.30,112.84 L121.18,113.43 L123.06,114.02 L124.94,114.61 L126.82,115.19 L128.70,115.78 L130.58,116.36 L132.46,116.94 L134.34,117.52 L136.22,118.09 L138.10,118.66 L139.99,119.24 L141.87,119.81 L143.76,120.37 L145.64,120.94 L147.53,121.50 L149.41,122.06 L151.30,122.62 L153.19,123.18 L155.07,123.74 L156.96,124.29 L158.85,124.84 L160.74,125.40 L162.63,125.94 L164.52,126.49 L166.41,127.04 L168.30,127.58 L170.20,128.12 L172.09,128.66 L173.98,129.20 L175.87,129.74 L177.77,130.28 L179.66,130.81 L181.56,131.34 L183.45,131.87 L185.35,132.40 L187.24,132.93 L189.14,133.46 L191.04,133.98 L192.94,134.50 L194.83,135.03 L196.73,135.55 L198.63,136.07 L200.53,136.58 L202.43,137.10 L204.33,137.61 L206.23,138.13 L208.13,138.64 L210.03,139.15 L211.93,139.66 L213.83,140.17 L215.73,140.68 L217.63,141.18 L219.54,141.69 L221.44,142.19 L223.34,142.69 L225.25,143.19 L227.15,143.69 L229.05,144.19 L230.96,144.69 L232.86,145.19 L234.77,145.68 L236.67,146.18 L238.58,146.67 L240.48,147.16 L242.39,147.65 L244.29,148.15 L246.20,148.64 L248.11,149.12 L250.01,149.61 L251.92,150.10 L253.83,150.59 L255.73,151.07 L257.64,151.56 L259.55,152.04 L261.46,152.52 L263.37,153.00 L265.27,153.49 L267.18,153.97 L269.09,154.45 L271.00,154.93 L272.91,155.41 L274.82,155.88 L276.73,156.36 L278.64,156.84 L280.55,157.31 L282.46,157.79 L284.37,158.27 L286.28,158.74 L288.19,159.21 L290.10,159.69 L292.01,160.16 L293.92,160.63 L295.83,161.11 L297.74,161.58 L299.65,162.05 L301.56,162.52 L303.47,162.99 L305.38,163.46 L307.29,163.93 L309.20,164.40 L311.12,164.87 L313.03,165.34 L314.94,165.81 L316.85,166.28 L318.76,166.75 L320.67,167.22 L322.58,167.69 L324.49,168.16 L326.41,168.63 L328.32,169.10 L330.23,169.57 L332.14,170.03 L334.05,170.50 L335.96,170.97 L337.88,171.44 L339.79,171.91 L341.70,172.38 L343.61,172.85 L345.52,173.32 L347.43,173.78 L349.34,174.25 L351.26,174.72 L353.17,175.19 L355.08,175.66 L356.99,176.13 L358.90,176.60 L360.81,177.07 L362.72,177.55 L364.63,178.02 L366.54,178.49 L368.45,178.96 L370.36,179.43 L372.28,179.91 L374.19,180.38 L376.10,180.85 L378.01,181.33 L379.92,181.80 L381.83,182.28 L383.74,182.75 L385.65,183.23 L387.55,183.71 L389.46,184.18 L391.37,184.66 L393.28,185.14 L395.19,185.62 L397.10,186.10 L399.01,186.58 L400.92,187.06 L402.82,187.55 L404.73,188.03 L406.64,188.51 L408.55,189.00 L410.45,189.48 L412.36,189.97 L414.27,190.46 L416.18,190.94 L418.08,191.43 L419.99,191.92 L421.89,192.41 L423.80,192.91" stroke="#0000ff" stroke-width="1.75" fill="none"/>
</g>
<rect x="46.7" y="8.5" width="377.1" height="353.8" fill="none" stroke="#000" stroke-width="1"/>
<path d="M46.70,362.3 v-9.5 M46.70,8.5 v9.5 M71.84,362.3 v-4.8 M71.84,8.5 v4.8 M96.98,362.3 v-4.8 M96.98,8.5 v4.8 M122.12,362.3 v-4.8 M122.12,8.5 v4.8 M147.26,362.3 v-4.8 M147.26,8.5 v4.8 M172.40,362.3 v-9.5 M172.40,8.5 v9.5 M197.54,362.3 v-4.8 M197.54,8.5 v4.8 M222.68,362.3 v-4.8 M222.68,8.5 v4.8 M247.82,362.3 v-4.8 M247.82,8.5 v4.8 M272.96,362.3 v-4.8 M272.96,8.5 v4.8 M298.10,362.3 v-9.5 M298.10,8.5 v9.5 M323.24,362.3 v-4.8 M323.24,8.5 v4.8 M348.38,362.3 v-4.8 M348.38,8.5 v4.8 M373.52,362.3 v-4.8 M373.52,8.5 v4.8 M398.66,362.3 v-4.8 M398.66,8.5 v4.8 M423.80,362.3 v-9.5 M423.80,8.5 v9.5 M46.7,362.30 h9.5 M423.8,362.30 h-9.5 M46.7,347.09 h5 M423.8,347.09 h-5 M46.7,338.18 h5 M423.8,338.18 h-5 M46.7,331.87 h5 M423.8,331.87 h-5 M46.7,326.97 h5 M423.8,326.97 h-5 M46.7,322.97 h5 M423.8,322.97 h-5 M46.7,319.59 h5 M423.8,319.59 h-5 M46.7,316.66 h5 M423.8,316.66 h-5 M46.7,314.07 h5 M423.8,314.07 h-5 M46.7,311.76 h9.5 M423.8,311.76 h-9.5 M46.7,296.54 h5 M423.8,296.54 h-5 M46.7,287.64 h5 M423.8,287.64 h-5 M46.7,281.33 h5 M423.8,281.33 h-5 M46.7,276.43 h5 M423.8,276.43 h-5 M46.7,272.43 h5 M423.8,272.43 h-5 M46.7,269.04 h5 M423.8,269.04 h-5 M46.7,266.11 h5 M423.8,266.11 h-5 M46.7,263.53 h5 M423.8,263.53 h-5 M46.7,261.21 h9.5 M423.8,261.21 h-9.5 M46.7,246.00 h5 M423.8,246.00 h-5 M46.7,237.10 h5 M423.8,237.10 h-5 M46.7,230.78 h5 M423.8,230.78 h-5 M46.7,225.89 h5 M423.8,225.89 h-5 M46.7,221.88 h5 M423.8,221.88 h-5 M46.7,218.50 h5 M423.8,218.50 h-5 M46.7,215.57 h5 M423.8,215.57 h-5 M46.7,212.98 h5 M423.8,212.98 h-5 M46.7,210.67 h9.5 M423.8,210.67 h-9.5 M46.7,195.46 h5 M423.8,195.46 h-5 M46.7,186.56 h5 M423.8,186.56 h-5 M46.7,180.24 h5 M423.8,180.24 h-5 M46.7,175.34 h5 M423.8,175.34 h-5 M46.7,171.34 h5 M423.8,171.34 h-5 M46.7,167.96 h5 M423.8,167.96 h-5 M46.7,165.03 h5 M423.8,165.03 h-5 M46.7,162.44 h5 M423.8,162.44 h-5 M46.7,160.13 h9.5 M423.8,160.13 h-9.5 M46.7,144.91 h5 M423.8,144.91 h-5 M46.7,136.01 h5 M423.8,136.01 h-5 M46.7,129.70 h5 M423.8,129.70 h-5 M46.7,124.80 h5 M423.8,124.80 h-5 M46.7,120.80 h5 M423.8,120.80 h-5 M46.7,117.41 h5 M423.8,117.41 h-5 M46.7,114.48 h5 M423.8,114.48 h-5 M46.7,111.90 h5 M423.8,111.90 h-5 M46.7,109.59 h9.5 M423.8,109.59 h-9.5 M46.7,94.37 h5 M423.8,94.37 h-5 M46.7,85.47 h5 M423.8,85.47 h-5 M46.7,79.16 h5 M423.8,79.16 h-5 M46.7,74.26 h5 M423.8,74.26 h-5 M46.7,70.26 h5 M423.8,70.26 h-5 M46.7,66.87 h5 M423.8,66.87 h-5 M46.7,63.94 h5 M423.8,63.94 h-5 M46.7,61.36 h5 M423.8,61.36 h-5 M46.7,59.04 h9.5 M423.8,59.04 h-9.5 M46.7,43.83 h5 M423.8,43.83 h-5 M46.7,34.93 h5 M423.8,34.93 h-5 M46.7,28.61 h5 M423.8,28.61 h-5 M46.7,23.71 h5 M423.8,23.71 h-5 M46.7,19.71 h5 M423.8,19.71 h-5 M46.7,16.33 h5 M423.8,16.33 h-5 M46.7,13.40 h5 M423.8,13.40 h-5 M46.7,10.81 h5 M423.8,10.81 h-5 M46.7,8.50 h9.5 M423.8,8.50 h-9.5" stroke="#000" stroke-width="1" fill="none"/>
<text x="46.70" y="376.8" font-size="12.9" text-anchor="middle" font-family="Liberation Sans, sans-serif">100</text>
<text x="172.40" y="376.8" font-size="12.9" text-anchor="middle" font-family="Liberation Sans, sans-serif">150</text>
<text x="298.10" y="376.8" font-size="12.9" text-anchor="middle" font-family="Liberation Sans, sans-serif">200</text>
<text x="423.80" y="376.8" font-size="12.9" text-anchor="middle" font-family="Liberation Sans, sans-serif">250</text>
<text x="21.6" y="369.60" font-size="12.8" font-family="Liberation Sans, sans-serif">10<tspan font-size="9.8" dy="-8.7">-1</tspan></text>
<text x="23.0" y="319.06" font-size="12.8" font-family="Liberation Sans, sans-serif">10<tspan font-size="9.8" dy="-8.7">0</tspan></text>
<text x="23.0" y="268.51" font-size="12.8" font-family="Liberation Sans, sans-serif">10<tspan font-size="9.8" dy="-8.7">1</tspan></text>
<text x="23.0" y="217.97" font-size="12.8" font-family="Liberation Sans, sans-serif">10<tspan font-size="9.8" dy="-8.7">2</tspan></text>
<text x="23.0" y="167.43" font-size="12.8" font-family="Liberation Sans, sans-serif">10<tspan font-size="9.8" dy="-8.7">3</tspan></text>
<text x="23.0" y="116.89" font-size="12.8" font-family="Liberation Sans, sans-serif">10<tspan font-size="9.8" dy="-8.7">4</tspan></text>
<text x="23.0" y="66.34" font-size="12.8" font-family="Liberation Sans, sans-serif">10<tspan font-size="9.8" dy="-8.7">5</tspan></text>
<text x="23.0" y="15.80" font-size="12.8" font-family="Liberation Sans, sans-serif">10<tspan font-size="9.8" dy="-8.7">6</tspan></text>
<text x="202.4" y="393.7" font-size="15.9" font-family="Liberation Sans, sans-serif">M<tspan font-size="11" dy="6" dx="0.3" font-family="Liberation Serif, serif">Φ</tspan><tspan dy="-6"> [GeV]</tspan></text>
<text transform="translate(13.5,289.3) rotate(-90)" font-size="15.75" font-family="Liberation Sans, sans-serif"><tspan font-family="Liberation Serif, serif">Φ</tspan> production cross section [fb]</text>
<text x="70.2" y="32.7" font-size="13.5" font-family="Liberation Sans, sans-serif">Tevatron, √s = 1.96 TeV</text>
<text x="70.2" y="50.8" font-size="13.5" font-family="Liberation Sans, sans-serif">m<tspan font-size="9" dy="6">h</tspan><tspan font-size="9" dy="-13.5" dx="0.3">max</tspan><tspan dy="7.5">, tan</tspan><tspan font-family="Liberation Serif, serif">β</tspan> = 40</text>
<text x="96.9" y="84.7" font-size="13.4" font-family="Liberation Sans, sans-serif">gg<tspan font-family="Liberation Serif, serif">Φ</tspan></text>
<text x="373.3" y="174.3" font-size="13.4" font-family="Liberation Sans, sans-serif">(bb)<tspan font-family="Liberation Serif, serif">Φ</tspan></text>
<text x="54.5" y="283.9" font-size="13.4" font-family="Liberation Sans, sans-serif">W/Z<tspan font-family="Liberation Serif, serif">Φ</tspan></text>
<text x="54.3" y="327" font-size="13.4" font-family="Liberation Sans, sans-serif">qq<tspan font-family="Liberation Serif, serif">Φ</tspan></text>
<text x="122.2" y="342.4" font-size="13.4" font-family="Liberation Sans, sans-serif">tt<tspan font-family="Liberation Serif, serif">Φ</tspan></text>
<path d="M358.2,26.70 H387" stroke="#ff0000" stroke-width="1.5"/>
<text x="394.1" y="30.55" font-size="10.8" font-family="Liberation Sans, sans-serif">h</text>
<path d="M358.2,44.35 H387" stroke="#00ff00" stroke-width="1.5"/>
<text x="394.1" y="48.20" font-size="10.8" font-family="Liberation Sans, sans-serif">H</text>
<path d="M358.2,62.00 H387" stroke="#0000ff" stroke-width="1.5"/>
<text x="393.9" y="65.85" font-size="10.8" font-family="Liberation Sans, sans-serif">A</text>
</svg>
</body></html>
